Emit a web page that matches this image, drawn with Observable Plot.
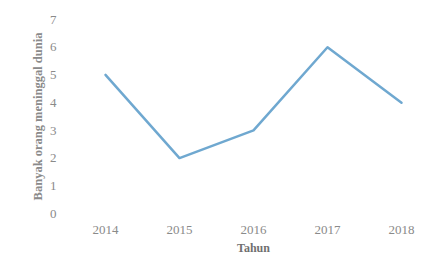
<!DOCTYPE html>
<html>
<head>
<meta charset="utf-8">
<script src="https://cdn.jsdelivr.net/npm/d3@7"></script>
<script src="https://cdn.jsdelivr.net/npm/@observablehq/plot@0.6"></script>
<style>
  html, body { margin: 0; padding: 0; background: #fff; }
  #chart svg { display: block; }
</style>
</head>
<body>
<div id="chart"></div>
<script>
const years = ["2014", "2015", "2016", "2017", "2018"];
const deaths = [5, 2, 3, 6, 4];
const yTicks = [0, 1, 2, 3, 4, 5, 6, 7];

const data = years.map((y, i) => ({year: y, value: deaths[i]}));

const chart = Plot.plot({
  width: 448,
  height: 272,
  marginLeft: 104,
  marginRight: 46,
  marginTop: 19,
  marginBottom: 59,
  style: {fontFamily: "'Liberation Serif', 'Times New Roman', serif", fontSize: "13px", color: "#8a8a8a", background: "#fff"},
  x: {type: "point", domain: years, padding: 0},
  y: {domain: [0, 7]},
  marks: [
    Plot.axisX({tickSize: 0, tickPadding: 11, fontSize: 13, label: null}),
    Plot.axisY({ticks: yTicks, tickFormat: "d", tickSize: 0, tickPadding: 48, fontSize: 13, label: null}),
    Plot.text(["Tahun"], {frameAnchor: "bottom", dy: 38, fontWeight: "bold", fontSize: 12, fill: "#707070"}),
    Plot.text(["Banyak orang meninggal dunia"], {frameAnchor: "left", textAnchor: "middle", dx: -67, rotate: -90, fontWeight: "bold", fontSize: 12.5, fill: "#8a8a8a"}),
    Plot.line(data, {x: "year", y: "value", stroke: "#6fa8d0", strokeWidth: 2.5})
  ]
});
document.getElementById("chart").appendChild(chart);
</script>
</body>
</html>
